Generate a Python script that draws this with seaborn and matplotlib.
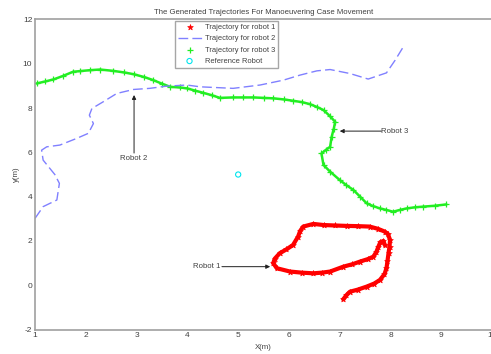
import matplotlib
matplotlib.use("Agg")
import matplotlib.pyplot as plt
import seaborn as sns

sns.set_style("white")
plt.rcParams["font.family"] = ["Liberation Sans", "DejaVu Sans"]
plt.rcParams["axes.unicode_minus"] = False

# Robot 1 trajectory (x, y in metres)
r1_x = [7.07, 7.13, 7.20, 7.35, 7.53, 7.68, 7.79, 7.88, 7.92, 7.94, 7.96, 7.98,
        7.99, 7.95, 7.89, 7.75, 7.59, 7.35, 7.14, 6.90, 6.68, 6.48, 6.28, 6.22,
        6.18, 6.08, 5.95, 5.82, 5.72, 5.69, 5.76, 6.02, 6.25, 6.48, 6.65, 6.81,
        7.07, 7.25, 7.40, 7.55, 7.66, 7.72, 7.76, 7.80, 7.86, 7.89]
r1_y = [-0.63, -0.45, -0.29, -0.20, -0.06, 0.08, 0.24, 0.50, 0.77, 1.10, 1.45, 1.75,
        2.05, 2.30, 2.42, 2.55, 2.65, 2.67, 2.68, 2.70, 2.72, 2.77, 2.65, 2.45,
        2.20, 1.82, 1.62, 1.45, 1.20, 1.00, 0.77, 0.62, 0.57, 0.54, 0.57, 0.62,
        0.84, 0.95, 1.07, 1.18, 1.29, 1.50, 1.74, 1.95, 2.00, 1.80]

# Robot 2 trajectory
r2_x = [1.00, 1.16, 1.43, 1.48, 1.39, 1.16, 1.13, 1.23, 1.49, 1.82, 2.05, 2.15,
        2.07, 2.12, 2.34, 2.61, 2.94, 3.26, 3.59, 3.99, 4.25, 4.90, 5.43, 5.89,
        6.22, 6.55, 6.81, 7.20, 7.56, 7.92, 8.09, 8.25]
r2_y = [3.02, 3.55, 3.85, 4.60, 5.00, 5.65, 6.10, 6.25, 6.33, 6.63, 6.86, 7.30,
        7.68, 7.98, 8.28, 8.66, 8.84, 8.89, 8.99, 9.04, 8.96, 8.89, 9.04, 9.26,
        9.49, 9.68, 9.74, 9.56, 9.31, 9.59, 10.16, 10.76]

# Robot 3 trajectory
r3_x = [1.03, 1.20, 1.36, 1.55, 1.75, 1.89, 2.08, 2.28, 2.54, 2.75, 2.94, 3.15,
        3.33, 3.50, 3.66, 3.85, 3.99, 4.15, 4.31, 4.48, 4.64, 4.90, 5.10, 5.30,
        5.50, 5.69, 5.90, 6.08, 6.25, 6.41, 6.55, 6.68, 6.80, 6.91, 6.88, 6.84,
        6.81, 6.72, 6.64, 6.68, 6.81, 7.00, 7.13, 7.27, 7.40, 7.53, 7.65, 7.79,
        7.92, 8.05, 8.18, 8.32, 8.48, 8.64, 8.87, 9.10]
r3_y = [9.11, 9.20, 9.29, 9.45, 9.64, 9.67, 9.71, 9.74, 9.68, 9.61, 9.53, 9.40,
        9.26, 9.10, 8.96, 8.93, 8.89, 8.79, 8.69, 8.58, 8.46, 8.48, 8.48, 8.48,
        8.46, 8.44, 8.39, 8.33, 8.27, 8.18, 8.05, 7.91, 7.65, 7.38, 7.05, 6.70,
        6.25, 6.10, 5.95, 5.43, 5.13, 4.75, 4.52, 4.30, 4.00, 3.70, 3.58, 3.47,
        3.40, 3.32, 3.40, 3.47, 3.52, 3.55, 3.59, 3.65]

# Reference robot position
ref_x = [5.0]
ref_y = [5.0]

x_ticks = [1, 2, 3, 4, 5, 6, 7, 8, 9, 10]
y_ticks = [-2, 0, 2, 4, 6, 8, 10, 12]

txt = "#404040"
edge = "#a0a0a0"

fig = plt.figure(figsize=(4.91, 3.54), dpi=100)
ax = fig.add_axes([0.0713, 0.069, 0.931, 0.876])

# trajectory bands
sns.lineplot(x=r1_x, y=r1_y, sort=False, estimator=None, color="#ff0000",
             linewidth=3.0, ax=ax)
sns.lineplot(x=r3_x, y=r3_y, sort=False, estimator=None, color="#22ee22",
             linewidth=1.8, ax=ax)

sns.scatterplot(x=r1_x, y=r1_y, marker="*", s=18, color="#ff0000",
                edgecolor="#ff0000", linewidth=0.5, ax=ax,
                label="Trajectory for robot 1")
sns.lineplot(x=r2_x, y=r2_y, sort=False, estimator=None, color="#8080ff",
             linewidth=1.0, dashes=False, ax=ax,
             label="Trajectory for robot 2")
ax.lines[-1].set_dashes([7, 3])
sns.scatterplot(x=r3_x, y=r3_y, marker="+", s=20, color="#22ee22",
                linewidth=0.9, ax=ax, label="Trajectory for robot 3")
sns.scatterplot(x=ref_x, y=ref_y, marker="o", s=14, facecolor="none",
                edgecolor="#00e5ee", linewidth=0.8, ax=ax,
                label="Reference Robot")

ax.set_xlim(1, 10)
ax.set_ylim(-2, 12)
ax.set_xticks(x_ticks)
ax.set_yticks(y_ticks)
ax.tick_params(direction="in", length=3, width=0.8, color=edge,
               labelsize=6, labelcolor=txt, pad=2)
for s in ax.spines.values():
    s.set_color(edge)
    s.set_linewidth(1.2)

ax.set_title("The Generated Trajectories For Manoeuvering Case Movement",
             fontsize=5.6, color=txt, pad=4)
ax.set_xlabel("X(m)", fontsize=5.6, color=txt, labelpad=3)
ax.set_ylabel("y(m)", fontsize=5.6, color=txt, labelpad=2)

arrow = dict(arrowstyle="-|>", color="#202020", lw=0.7,
             mutation_scale=6, shrinkA=0, shrinkB=0)
ax.text(4.64, 0.84, "Robot 1", fontsize=5.6, color=txt,
        ha="right", va="center")
ax.annotate("", xy=(5.63, 0.84), xytext=(4.68, 0.84), arrowprops=arrow)
ax.text(2.95, 5.72, "Robot 2", fontsize=5.6, color=txt,
        ha="center", va="center")
ax.annotate("", xy=(2.95, 8.59), xytext=(2.95, 5.97), arrowprops=arrow)
ax.text(7.82, 6.96, "Robot 3", fontsize=5.6, color=txt,
        ha="left", va="center")
ax.annotate("", xy=(7.0, 6.96), xytext=(7.82, 6.96), arrowprops=arrow)

leg = ax.legend(loc="upper left", bbox_to_anchor=(0.306, 0.995),
                fontsize=5.4, frameon=True, fancybox=False,
                handlelength=3.2, handletextpad=0.4, borderpad=0.35,
                labelspacing=0.55, borderaxespad=0)
leg.get_frame().set_edgecolor("#909090")
leg.get_frame().set_linewidth(1.0)
for t in leg.get_texts():
    t.set_color(txt)

fig.savefig("out.png", dpi=100)
